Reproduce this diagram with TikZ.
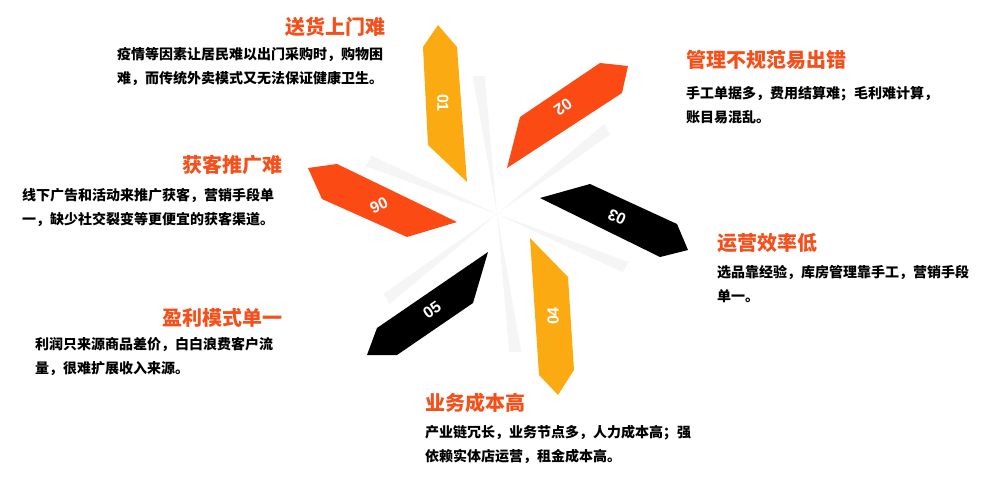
\documentclass[tikz,border=0pt]{standalone}
\usepackage{fontspec}
\setmainfont{Noto Sans CJK SC}
\newfontfamily\numfont{Liberation Sans}
\definecolor{redorange}{HTML}{FB4A14}
\definecolor{amber}{HTML}{FBAA12}
\definecolor{titlered}{HTML}{F5501C}
\tikzset{
  title/.style={text=titlered,font=\fontsize{20}{22}\selectfont\bfseries,inner sep=0pt},
  body/.style={font=\fontsize{14}{24}\selectfont\bfseries,align=left,inner sep=0pt,anchor=north west},
  num/.style={text=white,font=\numfont\fontsize{16}{16}\selectfont\bfseries,inner sep=0pt}
}
\begin{document}
\begin{tikzpicture}[x=1pt,y=-1pt]
\useasboundingbox (0,0) rectangle (1000,495);
% soft shadows
\foreach \a in {20,80,140,200,260,320}
  \fill[gray!8] (497,214) -- ++(\a:140) -- ++(\a+100:12) -- cycle;
% ribbons
\fill[amber] (438,25) -- (457,47) -- (467,182) -- (428,145) -- (423,47) -- cycle;
\fill[redorange] (507,168) -- (520,117) -- (600,63) -- (628,66) -- (622,93) -- cycle;
\fill[black] (540,198) -- (590,184) -- (677,224) -- (688,250) -- (660,257) -- cycle;
\fill[amber] (530,238) -- (568,277) -- (574,370) -- (558,395) -- (539,375) -- cycle;
\fill[black] (488,252) -- (473,303) -- (397,355) -- (367,355) -- (377,328) -- cycle;
\fill[redorange] (308,168) -- (337,164) -- (457,222) -- (407,237) -- (322,199) -- cycle;
% numbers
\node[num,rotate=-90] (n1) at (443,103) {01};
\node[num,rotate=-145] (n2) at (563,107) {02};
\node[num,rotate=155] (n3) at (617,217) {03};
\node[num,rotate=90] (n4) at (553,316) {04};
\node[num,rotate=35] (n5) at (432,310) {05};
\node[num,rotate=-155] (n6) at (379,205) {06};
% texts
\node[title,anchor=east] (t1) at (386,27) {送货上门难};
\node[body] (b1) at (117,47) {疫情等因素让居民难以出门采购时，购物困\\难，而传统外卖模式又无法保证健康卫生。};
\node[title,anchor=west] (t2) at (686,60) {管理不规范易出错};
\node[body] (b2) at (686,86) {手工单据多，费用结算难；毛利难计算，\\账目易混乱。};
\node[title,anchor=east] (t6) at (283,165) {获客推广难};
\node[body] (b6) at (22,188) {线下广告和活动来推广获客，营销手段单\\一，缺少社交裂变等更便宜的获客渠道。};
\node[title,anchor=west] (t3) at (717,243) {运营效率低};
\node[body] (b3) at (717,265) {选品靠经验，库房管理靠手工，营销手段\\单一。};
\node[title,anchor=east] (t5) at (283,318) {盈利模式单一};
\node[body] (b5) at (35,337) {利润只来源商品差价，白白浪费客户流\\量，很难扩展收入来源。};
\node[title,anchor=west] (t4) at (425,403) {业务成本高};
\node[body] (b4) at (425,425) {产业链冗长，业务节点多，人力成本高；强\\依赖实体店运营，租金成本高。};
\end{tikzpicture}
\end{document}
